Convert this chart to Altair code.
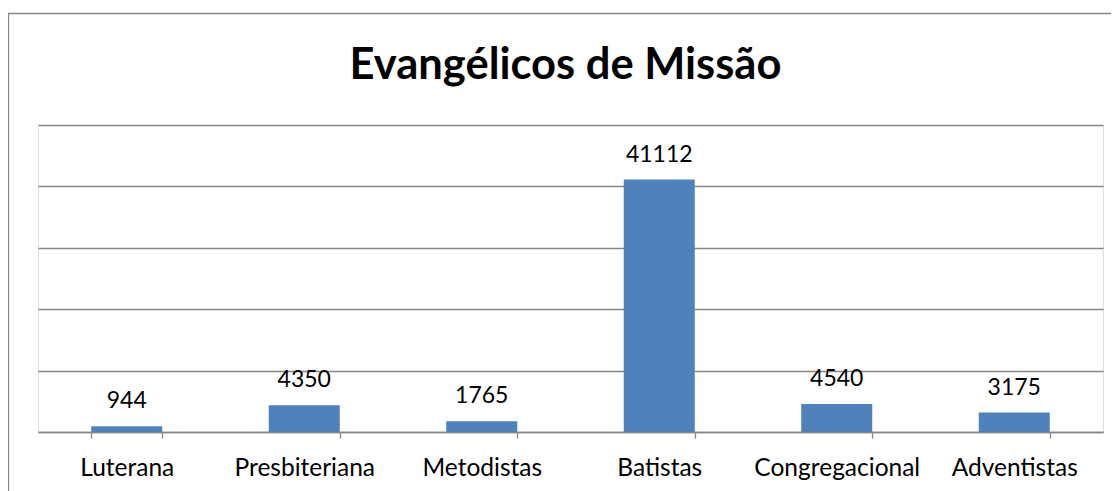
import altair as alt
import pandas as pd

categories = ["Luterana", "Presbiteriana", "Metodistas", "Batistas", "Congregacional", "Adventistas"]
values = [944, 4350, 1765, 41112, 4540, 3175]
y_ticks = [0, 10000, 20000, 30000, 40000, 50000]
title_text = "Evangélicos de Missão"

df = pd.DataFrame({"cat": categories, "val": values})

W, H = 1065, 307
FONT = "Lato"
GRAY = "#868686"

x = alt.X("cat:N", sort=categories, title=None,
          scale=alt.Scale(paddingInner=0.6, paddingOuter=0.3),
          axis=alt.Axis(labelAngle=0, labelFont=FONT, labelFontSize=24.5, labelColor="#000000",
                        labelPadding=18, tickBand="extent", tickSize=6, tickColor=GRAY,
                        tickWidth=1.3, domainColor=GRAY, domainWidth=1.3, grid=False,
                        labelOverlap=False))
y = alt.Y("val:Q", title=None,
          scale=alt.Scale(domain=[0, 50000], nice=False),
          axis=alt.Axis(values=y_ticks, labels=False, ticks=False, domain=False,
                        grid=True, gridColor=GRAY, gridWidth=1.3))

bars = alt.Chart(df).mark_bar(color="#4F81BD").encode(x=x, y=y)
labels = alt.Chart(df).mark_text(baseline="alphabetic", dy=-18, font=FONT, fontSize=23,
                                 color="#000000").encode(x=x, y=y, text="val:Q")

one = pd.DataFrame({"t": [title_text]})
border = alt.Chart(one).mark_rect(
    filled=False, stroke=GRAY, strokeWidth=1.3, fill=None).encode(
    x=alt.value(-29.5), x2=alt.value(1200), y=alt.value(-111.5), y2=alt.value(500))
title = alt.Chart(one).mark_text(font=FONT, fontSize=43.5, fontWeight="bold", color="#000000",
                                 align="center", baseline="alphabetic").encode(
    x=alt.value(527.5), y=alt.value(-46.5), text="t:N")

chart = alt.layer(border, bars, labels, title).properties(
    width=W, height=H,
    autosize=alt.AutoSizeParams(type="none"),
    padding={"left": 30, "top": 117, "right": 8, "bottom": 59},
).configure_view(stroke=None).configure(background="white")

chart.save("out.html", embed_options={"renderer": "svg", "actions": False})
